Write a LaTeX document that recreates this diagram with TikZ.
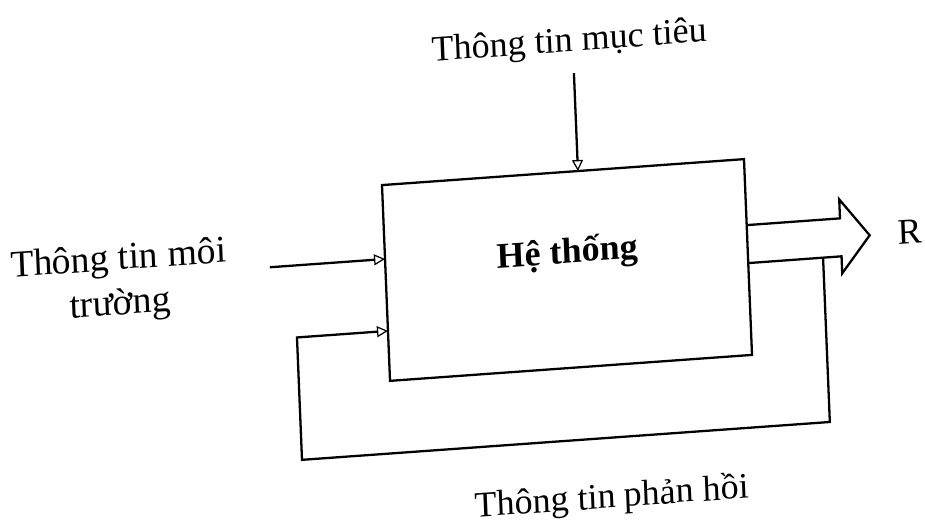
\documentclass[tikz,border=0pt]{standalone}
\usepackage{fontspec}
\setmainfont{Liberation Serif}
\usetikzlibrary{arrows.meta,calc}
\begin{document}
\begin{tikzpicture}[x=0.02cm,y=0.02cm,
  conn/.style={line width=1.3pt},
  tip/.style={-{Triangle[open,length=2.2mm,width=2.2mm,line width=0.7pt]}},
  lbl/.style={font=\fontsize{20.5}{26}\selectfont, inner sep=0pt, align=center}]
\fill[white] (0,0) rectangle (925,524);
\useasboundingbox (0,0) rectangle (925,524);
\begin{scope}[shift={(567,254)}, cm={0.9974,0.0715,-0.041,0.999,(0,0)}, transform shape]
  \node[draw, line width=1.3pt, minimum width=7.26cm, minimum height=3.92cm, inner sep=0pt, outer sep=0pt] (box) at (0,0) {};
  \node[lbl, font=\bfseries\fontsize{20.5}{26}\selectfont] (sys) at (1.6,16) {Hệ thống};
  \node[lbl] (goal) at (12,226.6) {Thông tin mục tiêu};
  \node[lbl, font=\fontsize{21.5}{25.6}\selectfont] (env) at (-448,19) {Thông tin môi\\trường};
  \node[lbl] (fbt) at (35.7,-231.2) {Thông tin phản hồi};
  \node[lbl] (r) at (344,14) {R};
  \coordinate (ts) at (15,196);
  \coordinate (ls) at (-297,24);
  \coordinate (fb) at (256.5,-6);
  \draw[conn,tip] (ts) -- ($(box.north west)!0.5413!(box.north east)$);
  \draw[conn,tip] (ls) -- ($(box.south west)!0.6224!(box.north west)$);
  \draw[conn,tip] (fb) -- (256.5,-170.5) -- (-272.7,-170.5) -- (-272.7,-48) -- ($(box.south west)!0.2551!(box.north west)$);
  \draw[conn, line join=miter] ($(box.south east)!0.663!(box.north east)$) -- (275,32) -- (275,51) -- (304,13) -- (275,-23) -- (275,-6) -- ($(box.south east)!0.469!(box.north east)$);
\end{scope}
\end{tikzpicture}
\end{document}
